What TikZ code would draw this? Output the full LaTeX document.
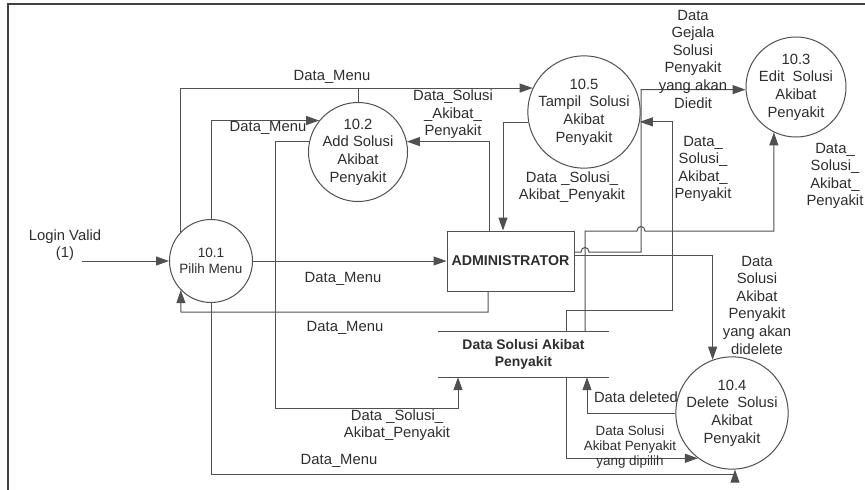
\documentclass[tikz,border=0pt]{standalone}
\usepackage{fontspec}
\setmainfont{Liberation Sans}
\usetikzlibrary{arrows.meta}
\definecolor{ln}{HTML}{505050}
\definecolor{txt}{HTML}{2E2E2E}
\begin{document}
\begin{tikzpicture}[x=1pt,y=-1pt,
  lbl/.style={font=\fontsize{14.8}{17.6}\selectfont, text=txt, align=center, inner sep=0pt},
  small/.style={font=\fontsize{13.4}{15}\selectfont, text=txt, align=center, inner sep=0pt},
  proc/.style={circle, draw=ln, line width=1pt, minimum size=#1, inner sep=0pt, align=center, text=txt, font=\fontsize{14.8}{17.6}\selectfont},
  flow/.style={draw=ln, line width=1pt, -{Triangle[length=13pt,width=9pt]}},
  wire/.style={draw=ln, line width=1pt},
]
\useasboundingbox (0,0) rectangle (865,490);
\fill[white] (0,0) rectangle (865,490);
\draw[line width=2pt, draw=ln!80!black] (8,492) -- (8,4) -- (867,4);

% processes
\node[proc=83pt, font=\fontsize{13.5}{16}\selectfont] (p1) at (211,261) {10.1\\Pilih Menu};
\node[proc=99pt] (p2) at (358,152) {10.2\\Add Solusi\\Akibat\\Penyakit};
\node[proc=104pt] (p5) at (584,112) {10.5\\Tampil\ \ Solusi\\Akibat\\Penyakit};
\node[proc=100pt] (p3) at (796,87) {10.3\\Edit\ \ Solusi\\Akibat\\Penyakit};
\node[proc=100pt] (p4) at (732,413) {10.4\\Delete\ \ Solusi\\Akibat\\Penyakit};

% external entity
\node[draw=ln, line width=1pt, minimum width=127pt, minimum height=60pt, inner sep=0pt,
      font=\bfseries\fontsize{14.2}{16}\selectfont, text=txt] (admin) at (510.5,261) {ADMINISTRATOR};

% data store
\node[lbl, font=\bfseries\fontsize{13.9}{17}\selectfont, minimum width=171pt, minimum height=45pt] (ds) at (523.5,354.5) {Data Solusi Akibat\\Penyakit};
\draw[wire] (ds.north west) -- (ds.north east);
\draw[wire] (ds.south west) -- (ds.south east);

% login
\coordinate (lg) at (82,261);
\draw[flow] (lg) -- (p1.west);
\node[lbl] at (65,245) {Login Valid\\(1)};

% p1 -> admin
\draw[flow] (p1.east) -- (admin.west);
\node[lbl] at (343,279) {Data\_Menu};

% admin -> p1
\draw[flow] (488,0 |- admin.south) |- (181,312) -- (p1.224);
\node[lbl] at (345,328) {Data\_Menu};

% p1 -> p5
\draw[flow] (p1.136) |- (p5.155);
\draw[wire] (p2.north) -- (p2.north |- p5.155);
\node[lbl] at (332,77) {Data\_Menu};

% p1 -> p2
\draw[flow] (p1.north) |- (p2.141);
\node[lbl] at (268,128) {Data\_Menu};

% p2 -> ds
\draw[flow] (p2.168) -| (275,408) -| (458,0 |- ds.south);
\node[lbl] at (397,425) {Data \_Solusi\_\\Akibat\_Penyakit};

% admin -> p2
\draw[flow] (489,0 |- admin.north) |- (p2.12);
\node[lbl] at (453,114.5) {Data\_Solusi\\\_Akibat\_\\Penyakit};

% p5 -> admin
\draw[flow] (p5.191) -| (503,0 |- admin.north);
\node[lbl] at (572,187) {Data \_Solusi\_\\Akibat\_Penyakit};

% ds -> p5
\draw[flow] (566,0 |- ds.north) |- (672,310) |- (p5.350);
\node[lbl] at (703,169) {Data\_\\Solusi\_\\Akibat\_\\Penyakit};

% admin -> p3
\draw[flow] (admin.east |- 0,252) -- (581,252) .. controls (581,246) and (589,246) .. (589,252) -- (641,252) |- (p3.183);
\node[lbl] at (693,59) {Data\\Gejala\\Solusi\\Penyakit\\yang akan\\Diedit};

% ds -> p3
\draw[flow] (585,0 |- ds.north) -- (585,231) -- (637,231) .. controls (637,225) and (645,225) .. (645,231) -| (p3.244);
\node[lbl] at (835,176) {Data\_\\Solusi\_\\Akibat\_\\Penyakit};

% admin -> p4
\draw[flow] (admin.east |- 0,255) -| (p4.110);
\node[lbl] at (757,305) {Data\\Solusi\\Akibat\\Penyakit\\yang akan\\didelete};

% p4 -> ds
\draw[flow] (p4.west) -| (587,0 |- ds.south);
\node[lbl] at (636,397) {Data deleted};

% ds -> p4
\draw[flow] (566,0 |- ds.south) |- (p4.233);
\node[small] at (630,447) {Data Solusi\\Akibat Penyakit\\yang dipilih};

% p1 -> p4
\draw[flow] (p1.south) -- (p1.south |- 0,474) -| (p4.273);
\node[lbl] at (339,461) {Data\_Menu};
\end{tikzpicture}
\end{document}
